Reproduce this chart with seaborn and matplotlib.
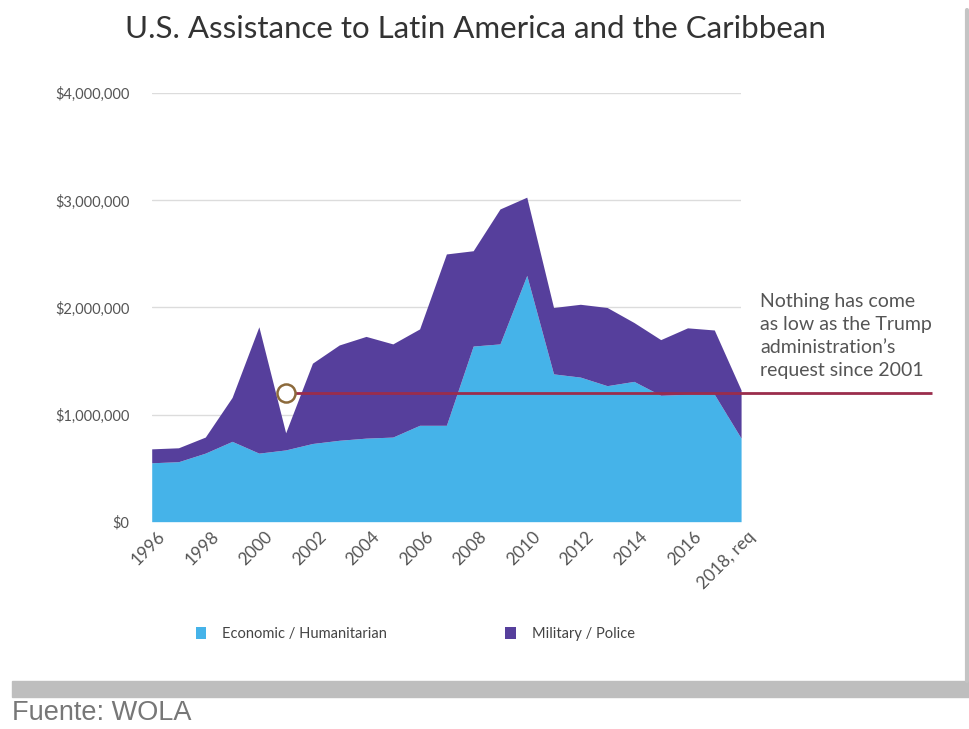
import numpy as np
import pandas as pd
import matplotlib
matplotlib.use("Agg")
import matplotlib.pyplot as plt
import matplotlib.transforms as mtransforms
import seaborn as sns
from matplotlib.patches import Patch, Rectangle
from matplotlib.lines import Line2D
from matplotlib.ticker import FuncFormatter

# ---------- data (US$) ---------- #
years = list(range(1996, 2019))
economic = [550000, 560000, 640000, 750000, 640000, 670000, 730000, 760000,
            780000, 790000, 900000, 900000, 1640000, 1660000, 2300000, 1380000,
            1350000, 1270000, 1310000, 1180000, 1190000, 1190000, 780000]
military = [130000, 130000, 150000, 410000, 1180000, 160000, 750000, 890000,
            950000, 870000, 900000, 1600000, 890000, 1260000, 730000, 620000,
            680000, 730000, 550000, 520000, 620000, 600000, 450000]
request_year = 2001
request_level = 1200000
tick_years = list(range(1996, 2019, 2))
tick_labels = [str(y) for y in tick_years[:-1]] + ["2018, req"]
series_names = ["Economic / Humanitarian", "Military / Police"]
note = ("Nothing has come\nas low as the Trump\n"
        "administration\u2019s\nrequest since 2001")

df = pd.DataFrame({"year": years, "economic": economic, "military": military})

# ---------- style ---------- #
sns.set_theme(style="white")
plt.rcParams["font.family"] = ["Lato", "DejaVu Sans"]

ECON = "#45b3e9"
MIL = "#563f9c"
RED = "#9a2d4c"
TXT = "#555555"

fig = plt.figure(figsize=(9.7, 7.29), dpi=100)
ax = fig.add_axes([0.1564, 0.2844, 0.6076, 0.5876])

ax.stackplot(df["year"], df["economic"], df["military"],
             colors=[ECON, MIL], linewidth=0, zorder=2)

# request line + marker
px_per_year = (741 - 151.7) / 22
line_end = 2018 + (932 - 741) / px_per_year
ax.plot([request_year, line_end], [request_level, request_level],
        color=RED, lw=2, clip_on=False, zorder=3, solid_capstyle="butt")
ax.plot([request_year], [request_level], marker="o", ms=13, mfc="white",
        mec="#8c6a3c", mew=1.8, zorder=4, clip_on=False)

ax.set_xlim(1996, 2018)
ax.set_ylim(0, 4000000)
ax.set_yticks([0, 1000000, 2000000, 3000000, 4000000])
ax.yaxis.set_major_formatter(FuncFormatter(lambda v, p: "${:,.0f}".format(v)))
ax.set_xticks(tick_years)
ax.set_xticklabels(tick_labels, rotation=45, ha="right", va="center",
                   rotation_mode="anchor")
ax.tick_params(axis="y", labelsize=10.5, labelcolor=TXT, pad=16, length=0)
ax.tick_params(axis="x", labelsize=12.5, labelcolor=TXT, pad=9, length=0)
shift = mtransforms.ScaledTranslation(8 / 72, 0, fig.dpi_scale_trans)
for lab in ax.get_xticklabels():
    lab.set_transform(lab.get_transform() + shift)
ax.yaxis.grid(True, color="#dcdcdc", lw=1)
ax.set_axisbelow(True)
ax.set_xlabel("")
ax.set_ylabel("")
sns.despine(ax=ax, left=True, bottom=True)

fig.text(0.4905, 1 - 29 / 729, "U.S. Assistance to Latin America and the Caribbean",
         ha="center", va="center", fontsize=22.5, color="#333333")

fig.text(760 / 970, 1 - 293 / 729, note, ha="left", va="top", fontsize=14,
         color=TXT, linespacing=1.42)

handles = [Patch(facecolor=ECON, edgecolor="none"),
           Patch(facecolor=MIL, edgecolor="none")]
fig.legend(handles, series_names, loc="center left",
           bbox_to_anchor=(183 / 970, 1 - 634 / 729), ncol=2, frameon=False,
           fontsize=10.5, labelcolor="#444444", handlelength=0.7,
           handleheight=0.9, handletextpad=1.1, columnspacing=8.1)

# footer bar, frame edge and source
fig.patches.append(Rectangle((12 / 970, 1 - 697 / 729), 1 - 12 / 970, 16 / 729,
                             transform=fig.transFigure, color="#bebebe",
                             zorder=0))
fig.add_artist(Line2D([967 / 970, 967 / 970], [1 - 681 / 729, 1 - 10 / 729],
                      transform=fig.transFigure, color="#c4c4c4", lw=3))
fig.text(12 / 970, 1 - 713 / 729, "Fuente: WOLA", ha="left", va="center",
         fontsize=19.5, color="#777777", family=["Liberation Sans"])

fig.savefig("out.png", dpi=100, facecolor="white")
